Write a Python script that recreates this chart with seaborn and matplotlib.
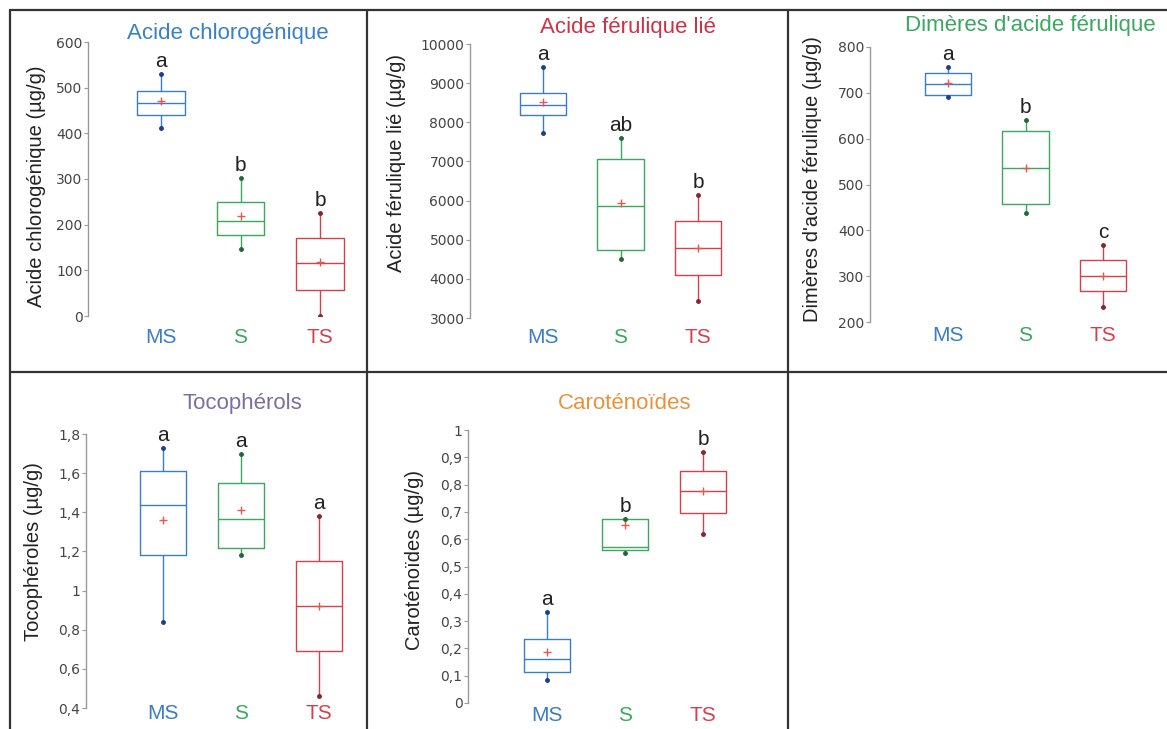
import matplotlib
matplotlib.use("Agg")
import matplotlib.pyplot as plt
from matplotlib.lines import Line2D
import seaborn as sns
import pandas as pd
import numpy as np

groups = ["MS", "S", "TS"]

# box stats: [min, q1, median, q3, max]
chloro_box = [[412, 440, 467, 493, 530], [147, 177, 207, 250, 302], [1, 58, 117, 170, 226]]
chloro_mean = [470, 218, 119]
chloro_letters = ["a", "b", "b"]
chloro_ticks = [0, 100, 200, 300, 400, 500, 600]

ferul_box = [[7720, 8190, 8440, 8760, 9420], [4510, 4745, 5850, 7060, 7590], [3430, 4110, 4790, 5490, 6150]]
ferul_mean = [8530, 5950, 4790]
ferul_letters = ["a", "ab", "b"]
ferul_ticks = [3000, 4000, 5000, 6000, 7000, 8000, 9000, 10000]

dimer_box = [[691, 695, 720, 743, 756], [437, 457, 535, 616, 641], [233, 267, 300, 336, 369]]
dimer_mean = [721, 537, 300]
dimer_letters = ["a", "b", "c"]
dimer_ticks = [200, 300, 400, 500, 600, 700, 800]

toco_box = [[0.84, 1.18, 1.435, 1.61, 1.73], [1.18, 1.22, 1.365, 1.55, 1.70], [0.46, 0.69, 0.92, 1.15, 1.38]]
toco_mean = [1.36, 1.41, 0.92]
toco_letters = ["a", "a", "a"]
toco_ticks = [0.4, 0.6, 0.8, 1.0, 1.2, 1.4, 1.6, 1.8]
toco_ticklabels = ["0,4", "0,6", "0,8", "1", "1,2", "1,4", "1,6", "1,8"]

carot_box = [[0.085, 0.112, 0.163, 0.234, 0.335], [0.55, 0.56, 0.573, 0.674, 0.674], [0.618, 0.695, 0.775, 0.848, 0.92]]
carot_mean = [0.185, 0.652, 0.775]
carot_letters = ["a", "b", "b"]
carot_ticks = [0, 0.1, 0.2, 0.3, 0.4, 0.5, 0.6, 0.7, 0.8, 0.9, 1.0]
carot_ticklabels = ["0", "0,1", "0,2", "0,3", "0,4", "0,5", "0,6", "0,7", "0,8", "0,9", "1"]

palette = ["#3a7cc6", "#3aa85e", "#d4404c"]
dark = ["#1f3d8a", "#24663a", "#8a2232"]
mean_color = "#e5584a"

sns.set_style("white")
plt.rcParams["font.family"] = ["Liberation Sans", "DejaVu Sans"]

W, H = 1167, 729
fig = plt.figure(figsize=(W / 100, H / 100), dpi=100)

# panel layout in pixels: spine x, first box x, box spacing, top tick y, bottom tick y,
# top of x labels, title pos, ylabel pos
panels = [
    dict(box=chloro_box, mean=chloro_mean, letters=chloro_letters, ticks=chloro_ticks, ticklabels=None,
         title="Acide chlorogénique", tcolor="#3a80c8", ylabel="Acide chlorogénique (µg/g)",
         left=88, c0=161, d=79.5, top=42, bottom=316, xlab=332, tpos=(228, 33), ypos=(37, 186)),
    dict(box=ferul_box, mean=ferul_mean, letters=ferul_letters, ticks=ferul_ticks, ticklabels=None,
         title="Acide férulique lié", tcolor="#cc3346", ylabel="Acide férulique lié (µg/g)",
         left=470, c0=543, d=77.5, top=44, bottom=318, xlab=332, tpos=(628, 28), ypos=(397, 163)),
    dict(box=dimer_box, mean=dimer_mean, letters=dimer_letters, ticks=dimer_ticks, ticklabels=None,
         title="Dimères d'acide férulique", tcolor="#3aa860", ylabel="Dimères d'acide férulique (µg/g)",
         left=870, c0=948, d=77.5, top=47, bottom=322, xlab=330, tpos=(1030, 26), ypos=(812, 179)),
    dict(box=toco_box, mean=toco_mean, letters=toco_letters, ticks=toco_ticks, ticklabels=toco_ticklabels,
         title="Tocophérols", tcolor="#7b6f9c", ylabel="Tocophéroles (µg/g)",
         left=86, c0=163, d=78, top=434, bottom=708, xlab=708, tpos=(242, 404), ypos=(34, 552)),
    dict(box=carot_box, mean=carot_mean, letters=carot_letters, ticks=carot_ticks, ticklabels=carot_ticklabels,
         title="Caroténoïdes", tcolor="#e8923e", ylabel="Caroténoïdes (µg/g)",
         left=468, c0=547, d=78, top=430, bottom=703, xlab=710, tpos=(625, 404), ypos=(414, 560)),
]

for p in panels:
    right = p["c0"] + 2.6 * p["d"]
    ax = fig.add_axes([p["left"] / W, 1 - p["bottom"] / H,
                       (right - p["left"]) / W, (p["bottom"] - p["top"]) / H])
    df = pd.DataFrame({"groupe": np.repeat(groups, 5),
                       "valeur": np.concatenate(p["box"])})
    sns.boxplot(data=df, x="groupe", y="valeur", hue="groupe", order=groups,
                palette=palette, fill=False, whis=(0, 100), width=0.6,
                linewidth=1, showcaps=False, saturation=1, legend=False, ax=ax)

    # means and whisker ends
    ax.plot(range(3), p["mean"], ls="none", marker="+", ms=6, mew=1, color=mean_color, zorder=5)
    for i in range(3):
        ax.plot([i, i], [p["box"][i][0], p["box"][i][4]], ls="none", marker="o", ms=2.5,
                color=dark[i], zorder=5)
        ax.annotate(p["letters"][i], (i, p["box"][i][4]), xytext=(0, 5),
                    textcoords="offset points", ha="center", va="baseline",
                    fontsize=15, color="#222222", annotation_clip=False)

    ax.set_xlim((p["left"] - p["c0"]) / p["d"], (right - p["c0"]) / p["d"])
    ax.set_ylim(p["ticks"][0], p["ticks"][-1])
    if p["ticklabels"] is None:
        ax.set_yticks(p["ticks"], [str(t) for t in p["ticks"]])
    else:
        ax.set_yticks(p["ticks"], p["ticklabels"])
    ax.set_xlabel("")
    ax.set_ylabel("")
    for s in ["top", "right", "bottom"]:
        ax.spines[s].set_visible(False)
    ax.spines["left"].set_color("#9a9a9a")
    ax.spines["left"].set_linewidth(1)
    ax.tick_params(axis="y", length=3, width=0.8, color="#9a9a9a", labelsize=10,
                   labelcolor="#444444", pad=1, left=True)
    pad = (p["xlab"] - 4 - p["bottom"]) * 0.72
    ax.tick_params(axis="x", length=0, labelsize=15, pad=pad)
    for lbl in ax.get_yticklabels():
        lbl.set_fontfamily("DejaVu Sans")
    for lbl, c in zip(ax.get_xticklabels(), palette):
        lbl.set_color(c)
    ax.patch.set_visible(False)

    fig.text(p["tpos"][0] / W, 1 - p["tpos"][1] / H, p["title"], color=p["tcolor"],
             fontsize=16, ha="center", va="center")
    fig.text(p["ypos"][0] / W, 1 - p["ypos"][1] / H, p["ylabel"], color="#222222",
             fontsize=14.5, rotation=90, ha="center", va="center")

# panel frame lines
for x0, y0, x1, y1 in [(10, 10, 1167, 10), (10, 10, 10, 729), (367, 10, 367, 729),
                       (788, 10, 788, 729), (10, 372, 1167, 372)]:
    fig.add_artist(Line2D([x0 / W, x1 / W], [1 - y0 / H, 1 - y1 / H],
                          transform=fig.transFigure, color="#333333", lw=1.6))

fig.savefig("out.png", dpi=100)
